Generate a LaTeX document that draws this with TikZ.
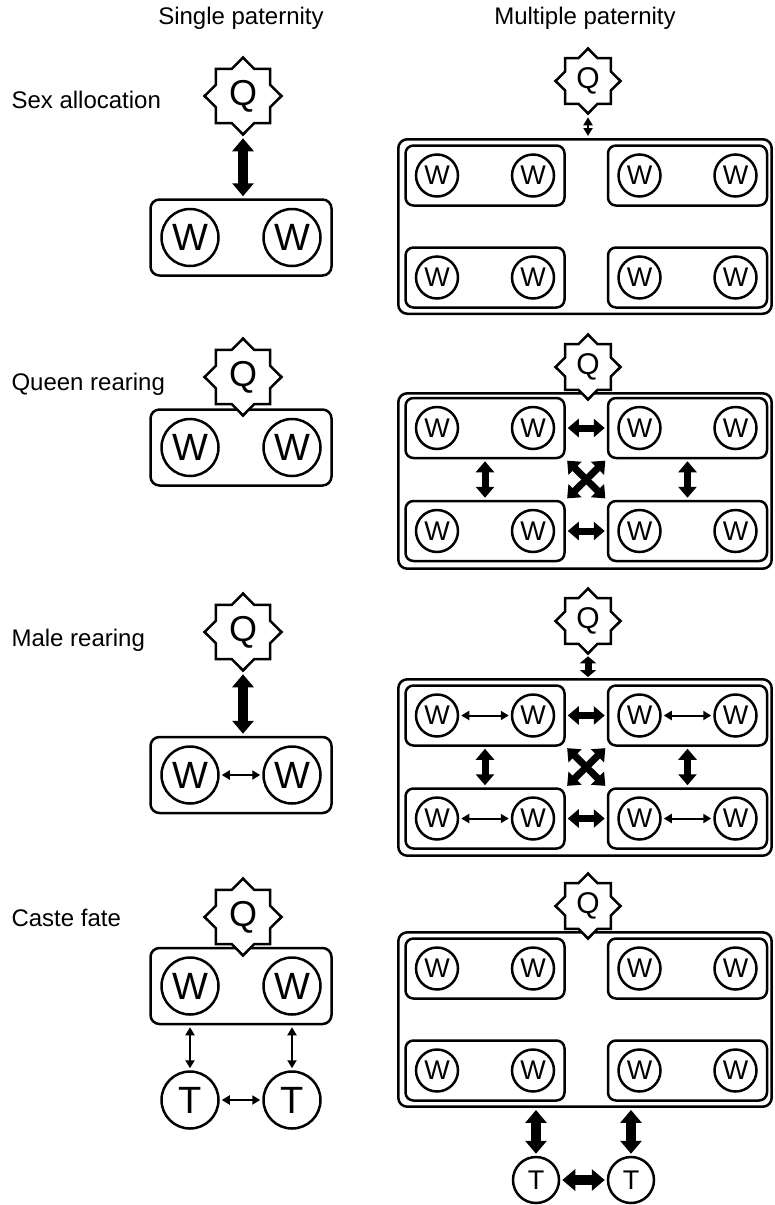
\documentclass[tikz,border=0pt]{standalone}
\usepackage{fontspec}
\setmainfont{Liberation Sans}
\usetikzlibrary{arrows.meta,shapes.geometric}

\begin{document}
\begin{tikzpicture}[x=1pt,y=-1pt,
    every node/.style={font=\fontsize{24}{28}\selectfont},
    queen/.style={star,star points=8,star point ratio=1.31,draw,line width=2.5pt,fill=white,inner sep=0pt,minimum size=77pt,font=\fontsize{36}{36}\selectfont},
    qsmall/.style={queen,minimum size=65pt,font=\fontsize{30}{30}\selectfont},
    worker/.style={circle,draw,line width=2.5pt,inner sep=0pt,minimum size=57pt,font=\fontsize{38}{38}\selectfont},
    wsmall/.style={worker,minimum size=42pt,font=\fontsize{27}{27}\selectfont},
    tsmall/.style={wsmall,minimum size=46pt},
    colony/.style={draw,line width=2.5pt,rounded corners=9pt,inner sep=0pt},
    patri/.style={colony,rounded corners=8pt,minimum width=159pt,minimum height=60pt},
    thinarr/.style={line width=2pt,{Triangle[width=9pt,length=8pt]}-{Triangle[width=9pt,length=8pt]},shorten <=2pt,shorten >=2pt},
    midarr/.style={line width=7pt,{Triangle[width=18pt,length=11pt]}-{Triangle[width=18pt,length=11pt]},shorten <=2pt,shorten >=2pt},
    thickarr/.style={line width=10pt,{Triangle[width=21pt,length=13pt]}-{Triangle[width=21pt,length=13pt]},shorten <=2pt,shorten >=2pt}]
    \path[fill=white,use as bounding box](0,0)rectangle(775,1205);
    % headings and row labels
    \node[anchor=base](hs)at(241,24){Single paternity};
    \node[anchor=base](hm)at(585,24){Multiple paternity};
    \foreach \r/\y/\txt in {1/108/Sex allocation,2/390/Queen rearing,3/646/Male rearing,4/926/Caste fate}
        \node[anchor=base west](lab\r)at(8,\y){\txt};
    % single paternity
    \foreach \r/\yc/\yq in {1/237.5/96,2/447.5/377,3/775/632,4/986/917}{
        \node[colony,minimum width=181pt,minimum height=76pt](c\r)at(241,\yc){};
        \node[worker](wa\r)at(190,\yc){W};
        \node[worker](wb\r)at(292,\yc){W};
        \node[queen](q\r)at(243,\yq){Q};
    }
    \node[worker](ta)at(190,1100){T};
    \node[worker](tb)at(292,1100){T};
    \draw[thickarr](q1.south)--(q1.south|-c1.north);
    \draw[thickarr](q3.south)--(q3.south|-c3.north);
    \draw[thinarr](wa3)--(wb3);
    \draw[thinarr](ta|-c4.south)--(ta);
    \draw[thinarr](tb|-c4.south)--(tb);
    \draw[thinarr](ta)--(tb);
    % multiple paternity
    \foreach \r/\yo/\ho/\ya/\yb/\yq in {1/226.5/174.5/175.5/277.5/81,2/481/175.4/428/531/367,3/767.5/176.4/715.5/818.5/621,4/1019.5/174.4/968.5/1070.5/906}{
        \node[colony,minimum width=373.4pt,minimum height=\ho pt](m\r)at(585,\yo){};
        \foreach \k/\x/\y in {1/485/\ya,2/687.5/\ya,3/485/\yb,4/687.5/\yb}{
            \node[patri](s\r-\k)at(\x,\y){};
            \node[wsmall](s\r-\k l)at(\x-48,\y){W};
            \node[wsmall](s\r-\k r)at(\x+48,\y){W};
        }
        \node[qsmall](qm\r)at(588,\yq){Q};
    }
    \draw[thinarr](qm1.south)--(qm1.south|-m1.north);
    \draw[midarr,{Triangle[width=16pt,length=7pt]}-{Triangle[width=16pt,length=7pt]},shorten <=1pt,shorten >=1pt](qm3.south)--(qm3.south|-m3.north);
    \foreach \r in {2,3}{
        \draw[midarr](s\r-1.east)--(s\r-2.west);
        \draw[midarr](s\r-3.east)--(s\r-4.west);
        \draw[midarr](s\r-1.south)--(s\r-3.north);
        \draw[midarr](s\r-2.south)--(s\r-4.north);
        \draw[midarr](s\r-1.south east)--(s\r-4.north west);
        \draw[midarr](s\r-3.north east)--(s\r-2.south west);
    }
    \foreach \k in {1,...,4}
        \draw[thinarr](s3-\k l)--(s3-\k r);
    \node[tsmall](tm1)at(536,1180){T};
    \node[tsmall](tm2)at(631,1180){T};
    \draw[thickarr](tm1|-m4.south)--(tm1);
    \draw[thickarr](tm2|-m4.south)--(tm2);
    \draw[thickarr](tm1)--(tm2);
\end{tikzpicture}
\end{document}
